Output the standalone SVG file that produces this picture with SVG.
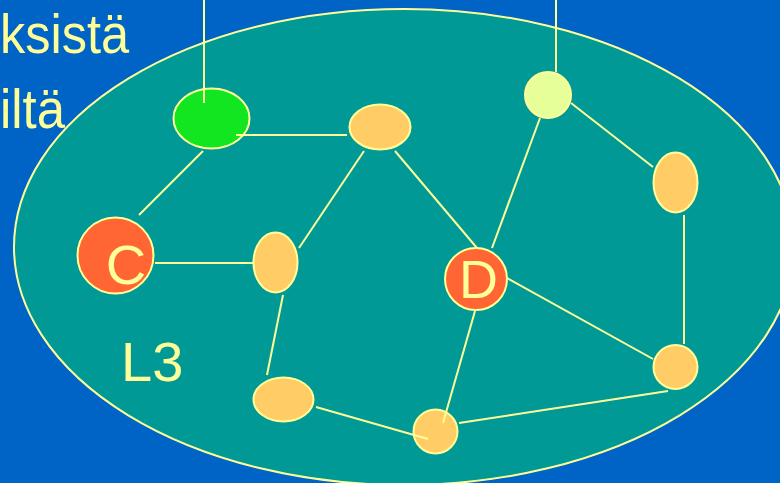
<svg xmlns="http://www.w3.org/2000/svg" width="780" height="483" viewBox="0 0 780 483">
<style>
.t{font-family:"Liberation Sans",Arial,sans-serif;fill:#FFFF99}
.n{stroke:#FFFF99;stroke-width:2}
.o{fill:#FFCC66}
.r{fill:#FF6633}
.c line{stroke:#FFFF99;stroke-width:2}
</style>
<rect width="780" height="483" fill="#0063C6"/>
<text class="t" x="0" y="53" font-size="55" textLength="129" lengthAdjust="spacingAndGlyphs">ksistä</text>
<text class="t" x="0" y="128" font-size="55" textLength="65" lengthAdjust="spacingAndGlyphs">iltä</text>
<g id="L3">
<ellipse cx="404" cy="247" rx="390" ry="238" fill="#009995" stroke="#FFFF99" stroke-width="2"/>
<text class="t" x="121" y="381" font-size="56">L3</text>
</g>
<g id="green"><ellipse class="n" cx="211.5" cy="118.5" rx="38" ry="30" fill="#11E620"/></g>
<g id="top"><ellipse class="n o" cx="380" cy="127" rx="30.5" ry="22.5"/></g>
<g id="C"><circle class="n r" cx="115.5" cy="255.5" r="38"/><text class="t" x="126" y="284" font-size="56" text-anchor="middle">C</text></g>
<g id="midleft"><ellipse class="n o" cx="275.5" cy="262.5" rx="22" ry="30"/></g>
<g id="botleft"><ellipse class="n o" cx="283.5" cy="399.5" rx="30" ry="22"/></g>
<g id="bottom"><circle class="n o" cx="435.5" cy="431.5" r="22"/></g>
<g id="D"><circle class="n r" cx="476" cy="279" r="31"/><text class="t" x="478.5" y="298" font-size="54" text-anchor="middle">D</text></g>
<g id="light"><circle class="n" cx="548" cy="95" r="23" fill="#E6FF99"/></g>
<g id="right"><ellipse class="n o" cx="675.5" cy="182.5" rx="22" ry="30"/></g>
<g id="rightbot"><circle class="n o" cx="675.5" cy="367" r="22"/></g>
<g id="connectors" class="c">
<line x1="204" y1="0" x2="204" y2="103"/>
<line x1="556" y1="0" x2="556" y2="72"/>
<line x1="236" y1="135" x2="347" y2="135"/>
<line x1="203" y1="151" x2="139" y2="215"/>
<line x1="155" y1="263" x2="253" y2="263"/>
<line x1="364" y1="151" x2="299" y2="248"/>
<line x1="395" y1="151" x2="477" y2="248"/>
<line x1="283" y1="295" x2="267" y2="375"/>
<line x1="316" y1="407" x2="428" y2="439"/>
<line x1="475" y1="311" x2="443" y2="423"/>
<line x1="459" y1="423" x2="668" y2="391"/>
<line x1="507" y1="278" x2="653" y2="359"/>
<line x1="492" y1="248" x2="540" y2="118"/>
<line x1="571" y1="103" x2="653" y2="167"/>
<line x1="684" y1="215" x2="684" y2="344"/>
</g>
</svg>
